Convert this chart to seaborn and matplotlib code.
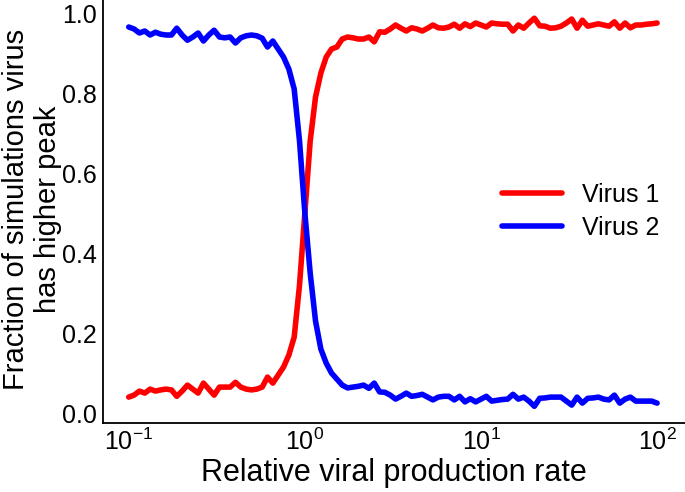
import matplotlib
matplotlib.use("Agg")
import matplotlib.pyplot as plt
import numpy as np
import pandas as pd
import seaborn as sns

# fraction of simulations in which each virus reaches the higher peak
virus1 = [
    0.040, 0.045, 0.055, 0.050, 0.060, 0.055, 0.058, 0.060, 0.058, 0.042,
    0.055, 0.070, 0.060, 0.050, 0.075, 0.060, 0.045, 0.065, 0.065, 0.065,
    0.077, 0.065, 0.060, 0.058, 0.060, 0.065, 0.090, 0.075, 0.095, 0.115,
    0.145, 0.190, 0.320, 0.500, 0.680, 0.790, 0.850, 0.890, 0.910, 0.915,
    0.935, 0.940, 0.938, 0.935, 0.935, 0.940, 0.928, 0.953, 0.952, 0.960,
    0.970, 0.962, 0.955, 0.963, 0.960, 0.955, 0.962, 0.970, 0.963, 0.962,
    0.965, 0.972, 0.962, 0.973, 0.966, 0.975, 0.970, 0.965, 0.975, 0.973,
    0.972, 0.972, 0.955, 0.970, 0.962, 0.975, 0.987, 0.968, 0.967, 0.962,
    0.963, 0.967, 0.975, 0.985, 0.962, 0.982, 0.967, 0.970, 0.973, 0.970,
    0.967, 0.978, 0.962, 0.975, 0.963, 0.970, 0.970, 0.972, 0.973, 0.975,
]
virus2 = [
    0.965, 0.960, 0.950, 0.955, 0.945, 0.952, 0.947, 0.945, 0.945, 0.962,
    0.945, 0.932, 0.940, 0.950, 0.930, 0.945, 0.957, 0.940, 0.938, 0.940,
    0.925, 0.938, 0.943, 0.945, 0.943, 0.937, 0.915, 0.930, 0.910, 0.890,
    0.860, 0.810, 0.680, 0.500, 0.350, 0.230, 0.160, 0.125, 0.100, 0.085,
    0.070, 0.063, 0.065, 0.067, 0.070, 0.062, 0.075, 0.053, 0.052, 0.045,
    0.035, 0.042, 0.050, 0.042, 0.044, 0.047, 0.040, 0.033, 0.040, 0.042,
    0.042, 0.033, 0.042, 0.028, 0.036, 0.028, 0.035, 0.042, 0.030, 0.032,
    0.034, 0.035, 0.047, 0.035, 0.040, 0.030, 0.017, 0.037, 0.038, 0.040,
    0.040, 0.040, 0.030, 0.020, 0.040, 0.025, 0.037, 0.038, 0.040, 0.035,
    0.033, 0.045, 0.025, 0.035, 0.040, 0.030, 0.030, 0.030, 0.030, 0.025,
]
# relative production rate grid, 10^-1 .. 10^2, log spaced
rate = np.logspace(-1, 2, len(virus1))

series_names = ["Virus 1", "Virus 2"]
y_ticks = [0.0, 0.2, 0.4, 0.6, 0.8, 1.0]
x_ticks = [0.1, 1, 10, 100]
x_ticklabels = [r"$10^{-1}$", r"$10^{0}$", r"$10^{1}$", r"$10^{2}$"]


def main():
    df = pd.concat([
        pd.DataFrame({"rate": rate, "frac": virus1, "virus": series_names[0]}),
        pd.DataFrame({"rate": rate, "frac": virus2, "virus": series_names[1]}),
    ])

    sns.set_style("white")
    plt.rcParams["font.family"] = ["Liberation Sans", "DejaVu Sans"]
    plt.rcParams["mathtext.fontset"] = "custom"
    plt.rcParams["mathtext.rm"] = "Liberation Sans"
    for key in ["text.color", "axes.labelcolor", "xtick.color", "ytick.color"]:
        plt.rcParams[key] = "black"

    fig = plt.figure(figsize=(6.85, 4.92), dpi=100)
    ax = fig.add_axes([0.150, 0.140, 0.85, 0.86])

    sns.lineplot(data=df, x="rate", y="frac", hue="virus",
                 palette={"Virus 1": "#ff0000", "Virus 2": "#0000ff"},
                 linewidth=4, ax=ax)

    ax.set_xscale("log")
    ax.set_xlim(0.0712, 144)
    ax.set_ylim(-0.025, 1.0325)
    ax.set_xticks(x_ticks)
    ax.set_xticklabels(x_ticklabels)
    ax.minorticks_off()
    ax.set_yticks(y_ticks)
    ax.set_yticklabels([f"{t:.1f}" for t in y_ticks])
    ax.tick_params(axis="both", length=0, labelsize=18, pad=4)

    ax.set_xlabel("Relative viral production rate", fontsize=22, labelpad=2)
    ax.set_ylabel("Fraction of simulations virus\nhas higher peak",
                  fontsize=21, linespacing=1.2)
    ax.yaxis.set_label_coords(-0.070, 0.505)

    sns.despine(ax=ax)
    for side in ["left", "bottom"]:
        ax.spines[side].set_color("black")
        ax.spines[side].set_linewidth(1.3)

    leg = ax.legend(loc="center left", bbox_to_anchor=(0.700, 0.570),
                    bbox_transform=fig.transFigure, frameon=False,
                    fontsize=18, handlelength=2.4, labelspacing=0.35)
    for line in leg.get_lines():
        line.set_linewidth(4)

    fig.savefig("out.png", dpi=100)
    plt.close(fig)


if __name__ == "__main__":
    main()
